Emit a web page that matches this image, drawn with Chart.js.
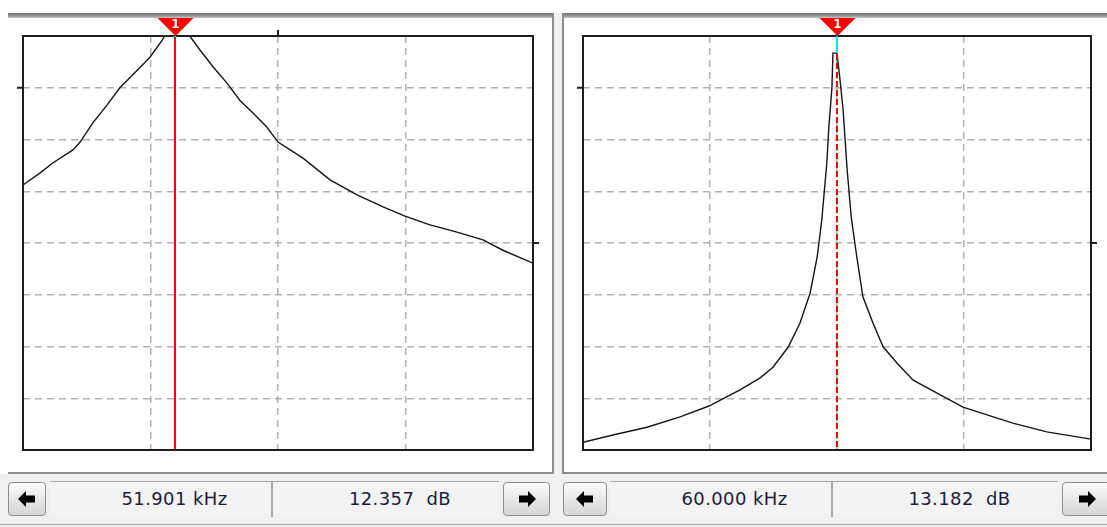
<!DOCTYPE html>
<html>
<head>
<meta charset="utf-8">
<script src="https://cdn.jsdelivr.net/npm/chart.js@4.4.1/dist/chart.umd.min.js"></script>
<style>
  html, body { margin: 0; padding: 0; background: #fff; }
  #stage { position: relative; width: 1107px; height: 527px; overflow: hidden; background: #fff; }
  .abs { position: absolute; }
  .topbar { height: 5px; background: linear-gradient(#6c6c6c, #9a9a9a 60%, #c4c4c4); }
  .vline { width: 2px; background: #8c8c8c; }
  .hline { height: 2px; background: #8c8c8c; }
  .strip { background: #f0f0f0; }
  .btn { box-sizing: border-box; border: 1px solid #8e8e8e; border-radius: 4px;
         background: linear-gradient(#fdfdfd, #e6e6e6 55%, #d6d6d6); }
  .btn svg { position: absolute; left: 50%; top: 50%; transform: translate(-50%, -50%); }
  .field { box-sizing: border-box; border-top: 1px solid #a8a8a8; background: #f3f3f3;
           font-family: "DejaVu Sans", sans-serif; font-size: 18px; letter-spacing: 0.4px; color: #1c1c3a;
           text-align: center; white-space: pre; line-height: 33px; padding-left: 28px; }
  .sep { border-right: 2px solid #a8a8a8; }
  canvas { position: absolute; }
</style>
</head>
<body>
<div id="stage">
  <!-- panel frames -->
  <div class="abs strip" style="left:0;top:474px;width:1107px;height:53px;"></div>
  <div class="abs strip" style="left:554px;top:13px;width:9px;height:461px;"></div>
  <div class="abs topbar" style="left:8px;top:13px;width:546px;"></div>
  <div class="abs topbar" style="left:563px;top:13px;width:544px;"></div>
  <div class="abs vline" style="left:552px;top:13px;height:461px;"></div>
  <div class="abs vline" style="left:562px;top:13px;height:461px;"></div>
  <div class="abs hline" style="left:8px;top:472px;width:546px;"></div>
  <div class="abs hline" style="left:562px;top:472px;width:545px;"></div>
  <div class="abs" style="left:0;top:524px;width:1107px;height:1px;background:#a6a6a6;"></div>

  <canvas id="leftChart" width="560" height="452" style="left:0;top:0;"></canvas>
  <canvas id="rightChart" width="547" height="452" style="left:560px;top:0;"></canvas>

  <!-- readout rows -->
  <div class="abs btn" style="left:8px;top:482px;width:38px;height:34px;"><svg width="18" height="16" viewBox="0 0 18 16"><polygon points="0,8 8,0 8,4.5 17,4.5 17,11.5 8,11.5 8,16" fill="#000"/></svg></div>
  <div class="abs field sep" id="lf" style="left:50px;top:481px;width:223px;height:36px;"></div>
  <div class="abs field" id="lg" style="left:273px;top:481px;width:226px;height:36px;"></div>
  <div class="abs btn" style="left:503px;top:482px;width:47px;height:34px;"><svg width="18" height="16" viewBox="0 0 18 16"><polygon points="18,8 10,0 10,4.5 1,4.5 1,11.5 10,11.5 10,16" fill="#000"/></svg></div>

  <div class="abs btn" style="left:563px;top:482px;width:44px;height:34px;"><svg width="18" height="16" viewBox="0 0 18 16"><polygon points="0,8 8,0 8,4.5 17,4.5 17,11.5 8,11.5 8,16" fill="#000"/></svg></div>
  <div class="abs field sep" id="rf" style="left:610px;top:481px;width:223px;height:36px;"></div>
  <div class="abs field" id="rg" style="left:833px;top:481px;width:225px;height:36px;"></div>
  <div class="abs btn" style="left:1062px;top:482px;width:50px;height:34px;"><svg width="18" height="16" viewBox="0 0 18 16"><polygon points="18,8 10,0 10,4.5 1,4.5 1,11.5 10,11.5 10,16" fill="#000"/></svg></div>
</div>

<script>
// horizontal position in % of sweep width, vertical in grid divisions (0..8)
const leftX  = [0, 3.3, 5.9, 9.8, 11.2, 13.7, 16.5, 19.0, 22.4, 24.9, 27.3, 28.0, 30.0, 32.3, 32.7,
                34.7, 37.3, 40.0, 42.5, 45.1, 47.8, 50.0, 54.9, 60.2, 65.5, 70.6, 74.9, 79.8, 85.1, 90.2, 94.1, 100];
const leftY  = [5.12, 5.35, 5.55, 5.80, 5.95, 6.32, 6.67, 7.00, 7.34, 7.59, 7.92, 8.05, 8.2, 8.05, 8.0,
                7.73, 7.40, 7.09, 6.76, 6.51, 6.24, 5.95, 5.64, 5.22, 4.93, 4.70, 4.52, 4.35, 4.21, 4.06, 3.86, 3.61];

const rightX = [0, 5.9, 12.6, 19.1, 24.8, 30.9, 34.8, 37.4, 40.4, 42.7, 44.7, 46.1, 47.0, 48.0, 48.4, 49.0, 49.2,
                50.0, 50.6, 51.2, 52.0, 52.8, 53.9, 55.1, 57.1, 59.1, 61.8, 65.0, 69.7, 74.8, 84.6, 91.3, 100];
const rightY = [0.15, 0.29, 0.44, 0.64, 0.85, 1.16, 1.39, 1.60, 1.99, 2.45, 3.03, 3.73, 4.44, 5.55, 6.24, 7.00, 7.67,
                7.67, 7.15, 6.57, 5.41, 4.50, 3.73, 2.96, 2.45, 1.99, 1.68, 1.35, 1.10, 0.83, 0.52, 0.35, 0.21];

const xDivisions = [0, 25, 50, 75, 100];
const yDivisions = [0, 1, 2, 3, 4, 5, 6, 7, 8];
const cursorX    = [29.8, 50.0];
const readFreq   = ['51.901 kHz', '60.000 kHz'];
const readGain   = ['12.357  dB', '13.182  dB'];

document.getElementById('lf').textContent = readFreq[0];
document.getElementById('lg').textContent = readGain[0];
document.getElementById('rf').textContent = readFreq[1];
document.getElementById('rg').textContent = readGain[1];

function valueAt(xs, ys, x) {
    for (let i = 1; i < xs.length; i++) {
        if (x <= xs[i]) {
            const t = (x - xs[i - 1]) / (xs[i] - xs[i - 1]);
            return ys[i - 1] + t * (ys[i] - ys[i - 1]);
        }
    }
    return ys[ys.length - 1];
}

// cursor, frame, outside ticks and marker
const scopePlugin = {
    id: 'scope',
    afterDraw(chart, args, opts) {
        const { ctx, chartArea: a, scales: { x, y } } = chart;
        const cx = Math.round(x.getPixelForValue(opts.cursor)) + 0.5;
        ctx.save();

        ctx.strokeStyle = '#ff0000';
        ctx.lineWidth = 2;
        ctx.setLineDash(opts.dashed ? [6, 3] : []);
        ctx.beginPath();
        ctx.moveTo(cx - 0.5, a.top);
        ctx.lineTo(cx - 0.5, a.bottom);
        ctx.stroke();
        ctx.setLineDash([]);

        ctx.strokeStyle = '#1e1e1e';
        ctx.lineWidth = 2;
        ctx.strokeRect(a.left, a.top, a.right - a.left, a.bottom - a.top);

        ctx.beginPath();
        opts.leftTicks.forEach(v => { const py = y.getPixelForValue(v); ctx.moveTo(a.left - 6, py); ctx.lineTo(a.left, py); });
        opts.rightTicks.forEach(v => { const py = y.getPixelForValue(v); ctx.moveTo(a.right, py); ctx.lineTo(a.right + 6, py); });
        opts.topTicks.forEach(v => { const px = x.getPixelForValue(v); ctx.moveTo(px, a.top - 6); ctx.lineTo(px, a.top); });
        ctx.stroke();

        // cyan segment between marker and trace
        const d = chart.data.datasets[0].data;
        const val = valueAt(d.map(p => p.x), d.map(p => p.y), opts.cursor);
        const py = Math.max(a.top + 1, y.getPixelForValue(val));
        ctx.strokeStyle = '#00e5e5';
        ctx.lineWidth = 2;
        ctx.beginPath();
        ctx.moveTo(cx - 0.5, a.top);
        ctx.lineTo(cx - 0.5, py);
        ctx.stroke();

        ctx.fillStyle = '#ff0000';
        ctx.beginPath();
        ctx.moveTo(cx - 18, a.top - 18);
        ctx.lineTo(cx + 18, a.top - 18);
        ctx.lineTo(cx, a.top);
        ctx.closePath();
        ctx.fill();
        ctx.fillStyle = '#fff';
        ctx.font = 'bold 12px "DejaVu Sans", sans-serif';
        ctx.textAlign = 'center';
        ctx.textBaseline = 'middle';
        ctx.fillText('1', cx, a.top - 11);
        ctx.restore();
    }
};

function makeChart(id, xs, ys, padding, scope) {
    const grid = { color: '#b2b2b2', lineWidth: 1.5, drawTicks: false };
    return new Chart(document.getElementById(id).getContext('2d'), {
        type: 'line',
        data: {
            datasets: [{
                data: xs.map((v, i) => ({ x: v, y: ys[i] })),
                borderColor: '#151515',
                borderWidth: 1.4,
                pointRadius: 0,
                tension: 0
            }]
        },
        options: {
            responsive: false,
            animation: false,
            layout: { padding },
            plugins: { legend: { display: false }, tooltip: { enabled: false }, scope },
            scales: {
                x: {
                    type: 'linear', min: xDivisions[0], max: xDivisions[xDivisions.length - 1],
                    afterBuildTicks: s => { s.ticks = xDivisions.map(v => ({ value: v })); },
                    ticks: { display: false },
                    grid,
                    border: { display: false, dash: [7, 5] }
                },
                y: {
                    min: yDivisions[0], max: yDivisions[yDivisions.length - 1],
                    afterBuildTicks: s => { s.ticks = yDivisions.map(v => ({ value: v })); },
                    ticks: { display: false },
                    grid,
                    border: { display: false, dash: [7, 5] }
                }
            }
        },
        plugins: [scopePlugin]
    });
}

makeChart('leftChart', leftX, leftY, { left: 23, right: 27, top: 36, bottom: 2 },
    { cursor: cursorX[0], dashed: false, leftTicks: [7], rightTicks: [4], topTicks: [50] });
makeChart('rightChart', rightX, rightY, { left: 23, right: 16, top: 36, bottom: 2 },
    { cursor: cursorX[1], dashed: true, leftTicks: [7], rightTicks: [4], topTicks: [] });
</script>
</body>
</html>
